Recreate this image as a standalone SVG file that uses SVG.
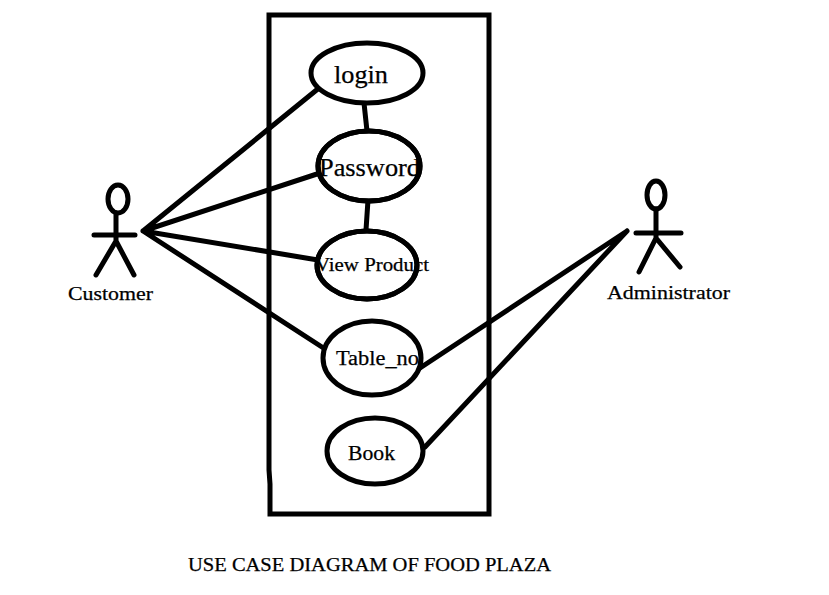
<svg xmlns="http://www.w3.org/2000/svg" width="829" height="595" viewBox="0 0 829 595">
<style>
.l{fill:none;stroke:#000;stroke-width:5;stroke-linecap:round}
.e{fill:#fff;stroke:#000;stroke-width:5}
.o{fill:none;stroke:#000;stroke-width:5}
text{font-family:"Liberation Serif","Times New Roman",serif;fill:#000;stroke:#000;stroke-width:.25}
</style>
<rect width="829" height="595" fill="#fff"/>
<g id="boundary"><path class="l" d="M270 15H489V514H270V484L269 470V15Z"/></g>
<g id="connectors">
<path class="l" d="M143 231L319 88M143 231L320 173M143 231L318 260M143 231L325 349M364 103L367 131M368 200L366 230M420 368L627 231M425 447L627 231"/>
</g>
<g id="login"><ellipse class="e" cx="367" cy="73" rx="56" ry="30"/><text x="334" y="83" font-size="25" textLength="54" lengthAdjust="spacingAndGlyphs">login</text></g>
<g id="password"><ellipse class="e" cx="369" cy="166" rx="51" ry="35"/><text x="319" y="176" font-size="25" textLength="101" lengthAdjust="spacingAndGlyphs">Password</text><ellipse class="o" cx="369" cy="166" rx="51" ry="35"/></g>
<g id="view-product"><ellipse class="e" cx="367" cy="265" rx="50" ry="34"/><text x="315" y="271" font-size="19" textLength="114" lengthAdjust="spacingAndGlyphs">View Product</text><ellipse class="o" cx="367" cy="265" rx="50" ry="34"/></g>
<g id="table-no"><ellipse class="e" cx="372" cy="358" rx="49" ry="37"/><text x="336" y="365" font-size="20" textLength="83" lengthAdjust="spacingAndGlyphs">Table_no</text></g>
<g id="book"><ellipse class="e" cx="375" cy="451" rx="48" ry="33"/><text x="348" y="460" font-size="20" textLength="47" lengthAdjust="spacingAndGlyphs">Book</text></g>
<g id="customer">
<ellipse class="l" cx="118" cy="199" rx="10" ry="14"/>
<path class="l" d="M116 213V241M94 235H135M116 241L96 275M116 241L134 275"/>
<text x="68" y="300" font-size="19" textLength="85" lengthAdjust="spacingAndGlyphs">Customer</text>
</g>
<g id="administrator">
<ellipse class="l" cx="656" cy="195" rx="9" ry="14"/>
<path class="l" d="M656 209V238M636 233H681M656 238L639 272M656 238L680 267"/>
<text x="607" y="299" font-size="19" textLength="123" lengthAdjust="spacingAndGlyphs">Administrator</text>
</g>
<text x="188" y="571" font-size="19" textLength="363" lengthAdjust="spacingAndGlyphs">USE CASE DIAGRAM OF FOOD PLAZA</text>
</svg>
